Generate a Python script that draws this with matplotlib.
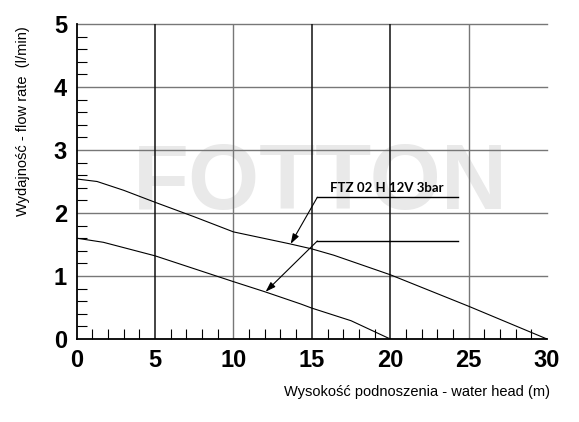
import matplotlib.pyplot as plt
from matplotlib.ticker import MultipleLocator

# pump curves
head_upper = [0, 1.3, 3, 5, 7.5, 10, 13.6, 15, 16.4, 20, 25, 30]
flow_upper = [2.54, 2.50, 2.36, 2.17, 1.94, 1.70, 1.51, 1.43, 1.33, 1.02, 0.52, 0.0]

head_lower = [0, 1.7, 5, 10, 12, 14.3, 15, 17.5, 20]
flow_lower = [1.60, 1.535, 1.32, 0.91, 0.75, 0.555, 0.49, 0.29, 0.0]

x_ticks = [0, 5, 10, 15, 20, 25, 30]
y_ticks = [0, 1, 2, 3, 4, 5]
dark_verticals = [5, 15, 20]
light_verticals = [10, 25]

label_text = "FTZ 02 H 12V 3bar"

plt.rcParams['font.family'] = ['Liberation Sans', 'DejaVu Sans']

fig = plt.figure(figsize=(5.79, 4.22), dpi=100)
ax = fig.add_axes([0.1325, 0.1967, 0.8122, 0.7464])

# watermark, behind everything in the axes
ax.text(0.553, 0.562, "FOTTON", transform=fig.transFigure, fontsize=66,
        fontweight="bold", color="#e9e9e9", ha="center", va="center", zorder=0)

# grid
for y in y_ticks[1:]:
    ax.axhline(y, color="#777777", lw=1.0, clip_on=False, zorder=1)
for x in light_verticals:
    ax.axvline(x, color="#777777", lw=1.0, zorder=1)
for x in dark_verticals:
    ax.axvline(x, color="#111111", lw=1.1, zorder=1)

ax.plot(head_upper, flow_upper, color="black", lw=0.8, zorder=3)
ax.plot(head_lower, flow_lower, color="black", lw=0.8, zorder=3)

# label with leader lines
ax.text(19.8, 2.40, label_text, fontsize=9.5, fontweight="bold",
        family=["Lato", "DejaVu Sans"], ha="center", va="center", zorder=4)
ax.plot([15.35, 24.3], [2.25, 2.25], color="black", lw=1.0, zorder=3)
ax.plot([15.35, 24.3], [1.556, 1.556], color="black", lw=1.0, zorder=3)
ax.annotate("", xy=(13.65, 1.51), xytext=(15.35, 2.25),
            arrowprops=dict(arrowstyle="-|>,head_length=0.6,head_width=0.2",
                            color="black", lw=0.8, shrinkA=0, shrinkB=0))
ax.annotate("", xy=(12.05, 0.75), xytext=(15.35, 1.556),
            arrowprops=dict(arrowstyle="-|>,head_length=0.6,head_width=0.2",
                            color="black", lw=0.8, shrinkA=0, shrinkB=0))

ax.set_xlim(0, 30)
ax.set_ylim(0, 5)
ax.set_xticks(x_ticks)
ax.set_yticks(y_ticks)
ax.xaxis.set_minor_locator(MultipleLocator(1))
ax.yaxis.set_minor_locator(MultipleLocator(0.2))
ax.tick_params(which="major", length=0, labelsize=17, pad=7)
ax.tick_params(which="minor", direction="in", length=7, width=0.8)
for lab in ax.get_xticklabels() + ax.get_yticklabels():
    lab.set_fontweight("bold")

ax.spines["top"].set_visible(False)
ax.spines["right"].set_visible(False)
ax.spines["left"].set_linewidth(1.3)
ax.spines["bottom"].set_linewidth(1.3)

fig.text(0.72, 0.07, "Wysokość podnoszenia - water head (m)", fontsize=10.5,
         ha="center", va="center")
fig.text(0.04, 0.713, "Wydajność - flow rate  (l/min)", fontsize=10.5,
         rotation=90, ha="center", va="center")

fig.savefig("out.png", dpi=100)
